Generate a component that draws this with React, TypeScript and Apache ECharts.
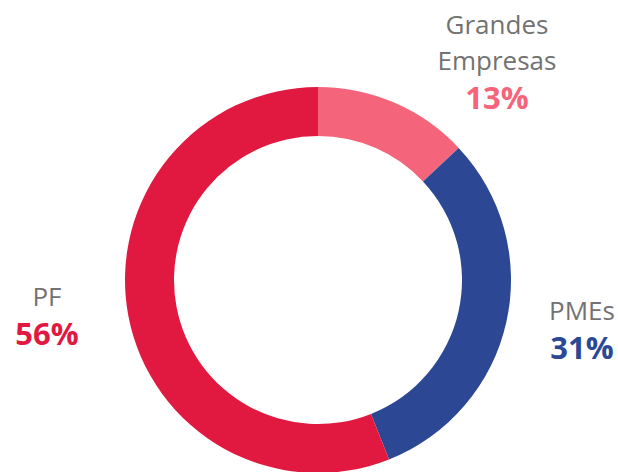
import React, { useEffect, useRef } from "react";
import * as echarts from "echarts";

const categories = ["Grandes\nEmpresas", "PMEs", "PF"];
const values = [13, 31, 56];
const colors = ["#F4647A", "#2C4895", "#E11940"];
const labelPos = [
  [497, 6],
  [582, 292],
  [47, 278],
];

export default function App() {
  const ref = useRef<HTMLDivElement>(null);
  useEffect(() => {
    document.body.style.margin = "0";
    const chart = echarts.init(ref.current!, null, { renderer: "svg" });
    chart.setOption({
      animation: false,
      series: [
        {
          type: "pie",
          center: [318, 280],
          radius: [144, 193],
          startAngle: 90,
          clockwise: true,
          silent: true,
          data: categories.map((name, i) => ({
            name,
            value: values[i],
            itemStyle: { color: colors[i] },
            label: {
              rich: {
                p: {
                  fontFamily: "Open Sans",
                  fontSize: 31,
                  fontWeight: "bold",
                  color: colors[i],
                  lineHeight: 38,
                  align: "center",
                },
              },
            },
          })),
          label: {
            show: true,
            position: "outside",
            overflow: "none",
            width: 200,
            formatter: (p: any) => `{n|${p.name}}\n{p|${p.value}%}`,
            rich: {
              n: {
                fontFamily: "Open Sans",
                fontSize: 26,
                color: "#727272",
                lineHeight: 36,
                align: "center",
              },
            },
          },
          labelLine: { show: false },
          labelLayout: (params: any) => ({
            x: labelPos[params.dataIndex][0],
            y: labelPos[params.dataIndex][1],
            align: "center",
            verticalAlign: "top",
          }),
        },
      ],
    });
    return () => chart.dispose();
  }, []);
  return <div ref={ref} style={{ width: 618, height: 472 }} />;
}
